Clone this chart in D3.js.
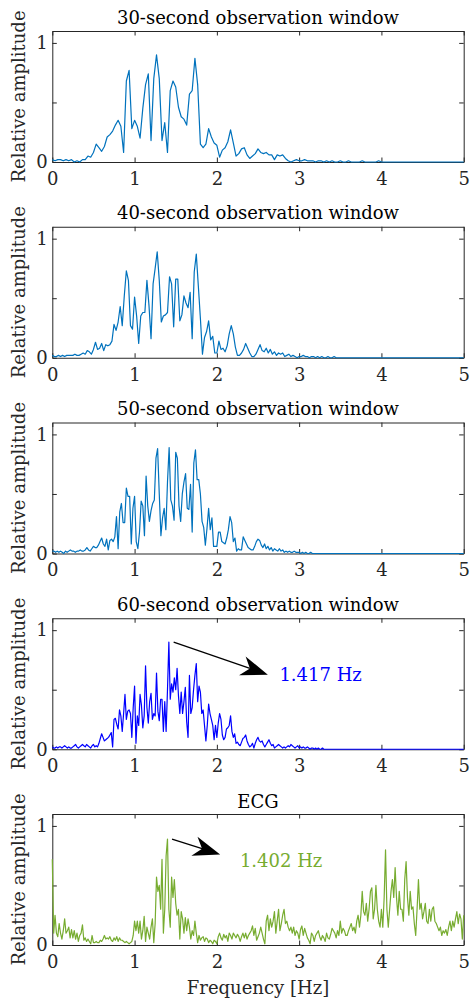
<!DOCTYPE html>
<html>
<head>
<meta charset="utf-8">
<script src="https://cdn.jsdelivr.net/npm/d3@7"></script>
<style>
  html, body { margin: 0; padding: 0; background: #fff; }
  svg { display: block; }
</style>
</head>
<body>
<div id="chart"></div>
<script>
// ---- data ----
const xTicks = [0, 1, 2, 3, 4, 5];
const yTicks = [0, 0.5, 1];
const yTickLabels = ['0', '', '1'];

const titles = [
  '30-second observation window',
  '40-second observation window',
  '50-second observation window',
  '60-second observation window',
  'ECG',
];
// frequency step (Hz) of each spectrum
const steps = [1 / 30, 1 / 40, 1 / 50, 1 / 60, 1 / 60];

const amp30 = [
  0.02,0.01,0.02,0.02,0.01,0.02,0.01,0.02,0.00,0.01,
  0.00,0.02,0.02,0.05,0.04,0.08,0.15,0.12,0.09,0.13,
  0.21,0.23,0.26,0.31,0.35,0.30,0.08,0.68,0.77,0.28,
  0.35,0.30,0.20,0.45,0.65,0.74,0.18,0.70,0.90,0.70,
  0.18,0.33,0.08,0.60,0.68,0.63,0.46,0.38,0.36,0.31,
  0.57,0.60,0.87,0.65,0.15,0.12,0.15,0.28,0.21,0.16,
  0.14,0.04,0.10,0.12,0.17,0.27,0.16,0.05,0.07,0.11,
  0.12,0.06,0.03,0.05,0.07,0.11,0.08,0.07,0.08,0.06,
  0.06,0.02,0.06,0.05,0.06,0.03,0.01,0.00,0.01,0.02,
  0.01,0.01,0.02,0.01,0.01,0.01,0.00,0.01,0.01,0.00,
  0.01,0.00,0.01,0.00,0.00,0.01,0.00,0.00,0.01,0.00,
  0.00,0.00,0.00,0.01,0.00,0.00,0.00,0.00,0.00,0.01,
  0.00,0.00,0.00,0.00,0.00,0.00,0.00,0.00,0.00,0.00,
  0.00,0.00,0.00,0.00,0.00,0.00,0.00,0.00,0.00,0.00,
  0.00,0.00,0.00,0.00,0.00,0.00,0.00,0.00,0.00,0.00,
  0.00,
];

const amp40 = [
  0.02,0.01,0.01,0.02,0.01,0.02,0.01,0.02,0.02,0.02,
  0.02,0.03,0.02,0.02,0.03,0.04,0.03,0.06,0.05,0.03,
  0.07,0.13,0.07,0.08,0.12,0.06,0.11,0.10,0.11,0.14,
  0.28,0.23,0.30,0.43,0.27,0.52,0.73,0.65,0.27,0.24,
  0.51,0.35,0.12,0.35,0.38,0.38,0.65,0.44,0.16,0.62,
  0.75,0.89,0.65,0.30,0.35,0.36,0.38,0.68,0.62,0.26,
  0.66,0.66,0.31,0.36,0.52,0.46,0.42,0.55,0.16,0.72,
  0.87,0.60,0.33,0.03,0.17,0.22,0.31,0.15,0.18,0.04,
  0.04,0.14,0.07,0.08,0.05,0.10,0.20,0.27,0.20,0.09,
  0.02,0.02,0.04,0.07,0.12,0.08,0.04,0.01,0.01,0.03,
  0.07,0.11,0.06,0.05,0.08,0.04,0.07,0.03,0.05,0.02,
  0.04,0.03,0.04,0.01,0.02,0.03,0.01,0.02,0.01,0.00,
  0.01,0.01,0.02,0.01,0.01,0.00,0.01,0.01,0.00,0.01,
  0.00,0.01,0.00,0.00,0.01,0.00,0.00,0.01,0.00,0.00,
  0.00,0.00,0.00,0.00,0.00,0.00,0.00,0.00,0.00,0.00,
  0.00,0.00,0.00,0.00,0.00,0.00,0.00,0.00,0.00,0.00,
  0.00,0.00,0.00,0.00,0.00,0.00,0.00,0.00,0.00,0.00,
  0.00,0.00,0.00,0.00,0.00,0.00,0.00,0.00,0.00,0.00,
  0.00,0.00,0.00,0.00,0.00,0.00,0.00,0.00,0.00,0.00,
  0.00,0.00,0.00,0.00,0.00,0.00,0.00,0.00,0.00,0.00,
  0.00,
];

const amp50 = [
  0.02,0.02,0.01,0.02,0.01,0.02,0.01,0.00,0.02,0.01,
  0.02,0.03,0.02,0.02,0.01,0.02,0.02,0.03,0.02,0.02,
  0.03,0.05,0.03,0.02,0.04,0.06,0.05,0.05,0.07,0.10,
  0.13,0.08,0.06,0.12,0.03,0.11,0.12,0.10,0.14,0.31,
  0.04,0.35,0.42,0.26,0.26,0.55,0.48,0.48,0.08,0.38,
  0.48,0.10,0.04,0.18,0.44,0.40,0.15,0.65,0.40,0.27,
  0.36,0.42,0.45,0.80,0.88,0.50,0.15,0.30,0.38,0.20,
  0.60,0.89,0.45,0.40,0.28,0.85,0.80,0.40,0.27,0.50,
  0.60,0.67,0.38,0.37,0.58,0.18,0.76,0.87,0.62,0.62,
  0.50,0.27,0.22,0.07,0.21,0.38,0.20,0.30,0.06,0.06,
  0.06,0.18,0.18,0.10,0.09,0.08,0.13,0.20,0.31,0.26,
  0.10,0.13,0.02,0.04,0.03,0.03,0.14,0.11,0.08,0.05,
  0.04,0.03,0.03,0.06,0.10,0.12,0.11,0.07,0.05,0.08,
  0.04,0.06,0.03,0.05,0.02,0.04,0.03,0.02,0.04,0.02,
  0.03,0.01,0.02,0.01,0.02,0.01,0.01,0.02,0.01,0.01,
  0.01,0.00,0.01,0.00,0.01,0.00,0.00,0.01,0.00,0.00,
  0.00,0.00,0.00,0.00,0.00,0.00,0.00,0.00,0.00,0.00,
  0.00,0.00,0.00,0.00,0.00,0.00,0.00,0.00,0.00,0.00,
  0.00,0.00,0.00,0.00,0.00,0.00,0.00,0.00,0.00,0.00,
  0.00,0.00,0.00,0.00,0.00,0.00,0.00,0.00,0.00,0.00,
  0.00,0.00,0.00,0.00,0.00,0.00,0.00,0.00,0.00,0.00,
  0.00,0.00,0.00,0.00,0.00,0.00,0.00,0.00,0.00,0.00,
  0.00,0.00,0.00,0.00,0.00,0.00,0.00,0.00,0.00,0.00,
  0.00,0.00,0.00,0.00,0.00,0.00,0.00,0.00,0.00,0.00,
  0.00,0.00,0.00,0.00,0.00,0.00,0.00,0.00,0.00,0.00,
  0.00,
];

const amp60 = [
  0.02,0.01,0.01,0.02,0.01,0.02,0.02,0.01,0.02,0.03,
  0.02,0.01,0.02,0.01,0.01,0.02,0.03,0.04,0.02,0.01,
  0.02,0.03,0.04,0.03,0.02,0.04,0.03,0.02,0.01,0.03,
  0.04,0.02,0.03,0.02,0.05,0.09,0.13,0.10,0.07,0.08,
  0.09,0.10,0.12,0.14,0.02,0.25,0.26,0.21,0.17,0.33,
  0.28,0.15,0.30,0.46,0.25,0.32,0.33,0.30,0.10,0.35,
  0.53,0.05,0.28,0.20,0.46,0.37,0.18,0.28,0.70,0.35,
  0.22,0.40,0.47,0.25,0.30,0.28,0.64,0.32,0.24,0.42,
  0.42,0.15,0.40,0.15,0.50,0.90,0.42,0.55,0.48,0.60,
  0.50,0.68,0.45,0.30,0.48,0.30,0.40,0.52,0.23,0.10,
  0.62,0.30,0.35,0.50,0.62,0.72,0.40,0.53,0.48,0.30,
  0.33,0.20,0.07,0.20,0.38,0.30,0.25,0.20,0.08,0.20,
  0.10,0.22,0.30,0.25,0.12,0.08,0.10,0.17,0.18,0.20,
  0.28,0.15,0.10,0.13,0.05,0.06,0.04,0.03,0.06,0.09,
  0.10,0.12,0.07,0.04,0.02,0.03,0.05,0.01,0.05,0.08,
  0.10,0.07,0.06,0.07,0.04,0.02,0.04,0.06,0.08,0.05,
  0.03,0.04,0.01,0.02,0.03,0.04,0.03,0.02,0.01,0.02,
  0.01,0.02,0.03,0.02,0.04,0.03,0.02,0.01,0.02,0.03,
  0.01,0.02,0.01,0.02,0.01,0.01,0.02,0.01,0.00,0.01,
  0.01,0.00,0.01,0.00,0.01,0.00,0.00,0.01,0.00,0.00,
  0.00,0.00,0.00,0.00,0.00,0.00,0.00,0.00,0.00,0.00,
  0.00,0.00,0.00,0.00,0.00,0.00,0.00,0.00,0.00,0.00,
  0.00,0.00,0.00,0.00,0.00,0.00,0.00,0.00,0.00,0.00,
  0.00,0.00,0.00,0.00,0.00,0.00,0.00,0.00,0.00,0.00,
  0.00,0.00,0.00,0.00,0.00,0.00,0.00,0.00,0.00,0.00,
  0.00,0.00,0.00,0.00,0.00,0.00,0.00,0.00,0.00,0.00,
  0.00,0.00,0.00,0.00,0.00,0.00,0.00,0.00,0.00,0.00,
  0.00,0.00,0.00,0.00,0.00,0.00,0.00,0.00,0.00,0.00,
  0.00,0.00,0.00,0.00,0.00,0.00,0.00,0.00,0.00,0.00,
  0.00,0.00,0.00,0.00,0.00,0.00,0.00,0.00,0.00,0.00,
  0.00,
];

const ampEcg = [
  0.72,0.10,0.25,0.10,0.07,0.18,0.10,0.05,0.12,0.22,
  0.10,0.12,0.15,0.06,0.13,0.06,0.12,0.05,0.10,0.03,
  0.08,0.10,0.17,0.04,0.06,0.03,0.05,0.03,0.01,0.08,
  0.02,0.02,0.03,0.02,0.02,0.04,0.03,0.05,0.08,0.05,
  0.06,0.05,0.07,0.04,0.03,0.06,0.04,0.07,0.03,0.06,
  0.04,0.04,0.03,0.02,0.03,0.02,0.01,0.02,0.03,0.08,
  0.20,0.12,0.20,0.10,0.20,0.05,0.12,0.24,0.03,0.15,
  0.10,0.05,0.15,0.22,0.02,0.18,0.57,0.45,0.50,0.30,
  0.72,0.10,0.30,0.75,0.89,0.30,0.15,0.57,0.40,0.55,
  0.35,0.25,0.30,0.05,0.28,0.22,0.10,0.23,0.12,0.22,
  0.15,0.05,0.12,0.08,0.20,0.10,0.02,0.08,0.04,0.06,
  0.07,0.03,0.06,0.05,0.02,0.04,0.03,0.01,0.04,0.03,
  0.01,0.07,0.10,0.06,0.04,0.09,0.06,0.08,0.03,0.10,
  0.08,0.05,0.10,0.08,0.06,0.09,0.07,0.03,0.07,0.10,
  0.06,0.10,0.05,0.08,0.10,0.12,0.16,0.08,0.14,0.04,
  0.07,0.10,0.15,0.10,0.05,0.01,0.20,0.25,0.12,0.22,
  0.15,0.20,0.28,0.10,0.20,0.30,0.12,0.18,0.25,0.30,
  0.18,0.20,0.15,0.12,0.15,0.10,0.15,0.08,0.12,0.10,
  0.05,0.13,0.16,0.08,0.14,0.10,0.06,0.04,0.01,0.10,
  0.08,0.03,0.08,0.10,0.12,0.07,0.04,0.08,0.06,0.03,
  0.10,0.06,0.05,0.09,0.14,0.12,0.10,0.06,0.12,0.08,
  0.20,0.10,0.14,0.12,0.08,0.08,0.12,0.15,0.18,0.12,
  0.15,0.10,0.20,0.25,0.15,0.25,0.45,0.28,0.25,0.35,
  0.20,0.30,0.45,0.48,0.22,0.30,0.50,0.30,0.20,0.15,
  0.30,0.15,0.40,0.80,0.30,0.15,0.30,0.45,0.55,0.40,
  0.65,0.40,0.25,0.45,0.30,0.30,0.20,0.55,0.70,0.40,
  0.25,0.45,0.30,0.32,0.18,0.08,0.30,0.55,0.30,0.35,
  0.22,0.28,0.35,0.20,0.18,0.30,0.20,0.30,0.32,0.20,
  0.18,0.15,0.12,0.15,0.08,0.12,0.10,0.13,0.08,0.15,
  0.20,0.12,0.20,0.15,0.22,0.28,0.18,0.26,0.22,0.05,
  0.25,
];

const spectra = [amp30, amp40, amp50, amp60, ampEcg];

// peak annotations: panel index, label, arrow start/end and label anchor (Hz, amplitude)
const peakNotes = [
  { panel: 3, label: '1.417 Hz', from: [1.475, 0.9], to: [2.62, 0.626], at: [2.76, 0.57] },
  { panel: 4, label: '1.402 Hz', from: [1.455, 0.89], to: [2.04, 0.76], at: [2.28, 0.655] },
];

// ---- styles / layout ----
const colors = ['#0072BD', '#0072BD', '#0072BD', '#0000FF', '#77AC30'];
const width = 470;
const height = 1003;
const plotLeft = 52.3;
const plotRight = 463.7;
const firstTop = 31;
const panelStep = 195.75;
const panelHeight = 131;
const axisColor = '#262626';
const font = '"DejaVu Serif", serif';

const svg = d3
  .select('#chart')
  .append('svg')
  .attr('width', width)
  .attr('height', height)
  .attr('viewBox', `0 0 ${width} ${height}`);

const x = d3.scaleLinear().domain([0, 5]).range([plotLeft, plotRight]);

spectra.forEach((amps, i) => {
  const top = firstTop + i * panelStep;
  const bottom = top + panelHeight;
  const y = d3.scaleLinear().domain([0, 1.1]).range([bottom, top]);
  const g = svg.append('g').attr('class', 'panel');

  // axes (MATLAB style box, ticks pointing inward)
  const tick = -4.5;
  g.append('g')
    .attr('transform', `translate(0,${bottom})`)
    .call(
      d3.axisBottom(x).tickValues(xTicks).tickSizeInner(tick).tickSizeOuter(0)
        .tickPadding(10).tickFormat(d3.format('d'))
    );
  g.append('g')
    .attr('transform', `translate(0,${top})`)
    .call(d3.axisTop(x).tickValues(xTicks).tickSizeInner(tick).tickSizeOuter(0).tickFormat(''));
  g.append('g')
    .attr('transform', `translate(${plotLeft},0)`)
    .call(
      d3.axisLeft(y).tickValues(yTicks).tickSizeInner(tick).tickSizeOuter(0)
        .tickPadding(4.5).tickFormat((d, k) => yTickLabels[k])
    );
  g.append('g')
    .attr('transform', `translate(${plotRight},0)`)
    .call(d3.axisRight(y).tickValues(yTicks).tickSizeInner(tick).tickSizeOuter(0).tickFormat(''));

  g.selectAll('.domain, .tick line').attr('stroke', axisColor).attr('stroke-width', 1);
  g.selectAll('.tick text')
    .attr('fill', axisColor)
    .attr('font-family', font)
    .attr('font-size', 18);

  // data line, drawn over the box like the original
  const line = d3
    .line()
    .x((d, k) => x(k * steps[i]))
    .y((d) => y(d));
  g.append('path')
    .datum(amps)
    .attr('fill', 'none')
    .attr('stroke', colors[i])
    .attr('stroke-width', 1.2)
    .attr('stroke-linejoin', 'round')
    .attr('d', line);

  // title
  g.append('text')
    .attr('x', (plotLeft + plotRight) / 2)
    .attr('y', top - (i === 4 ? 6.5 : 7.5))
    .attr('text-anchor', 'middle')
    .attr('font-family', font)
    .attr('font-size', 18)
    .attr('fill', '#000')
    .text(titles[i]);

  // y label
  g.append('text')
    .attr('transform', `translate(25,${(top + bottom) / 2}) rotate(-90)`)
    .attr('text-anchor', 'middle')
    .attr('font-family', font)
    .attr('font-size', 18)
    .attr('fill', axisColor)
    .text('Relative amplitude');

  // peak annotation
  peakNotes
    .filter((n) => n.panel === i)
    .forEach((n) => {
      const x0 = x(n.from[0]), y0 = y(n.from[1]);
      const x1 = x(n.to[0]), y1 = y(n.to[1]);
      const len = Math.hypot(x1 - x0, y1 - y0);
      const ux = (x1 - x0) / len, uy = (y1 - y0) / len;
      const px = -uy, py = ux;
      const headLen = 27, halfW = 10, notch = 19;
      g.append('line')
        .attr('x1', x0).attr('y1', y0)
        .attr('x2', x1 - ux * notch).attr('y2', y1 - uy * notch)
        .attr('stroke', '#000')
        .attr('stroke-width', 1.3);
      const head = [
        [x1, y1],
        [x1 - ux * headLen + px * halfW, y1 - uy * headLen + py * halfW],
        [x1 - ux * notch, y1 - uy * notch],
        [x1 - ux * headLen - px * halfW, y1 - uy * headLen - py * halfW],
      ];
      g.append('path')
        .attr('d', 'M' + head.map((p) => p.join(',')).join('L') + 'Z')
        .attr('fill', '#000');
      g.append('text')
        .attr('x', x(n.at[0]))
        .attr('y', y(n.at[1]))
        .attr('font-family', font)
        .attr('font-size', 18)
        .attr('fill', colors[i])
        .text(n.label);
    });
});

// x label
svg.append('text')
  .attr('x', (plotLeft + plotRight) / 2)
  .attr('y', 994)
  .attr('text-anchor', 'middle')
  .attr('font-family', font)
  .attr('font-size', 18)
  .attr('fill', axisColor)
  .text('Frequency [Hz]');
</script>
</body>
</html>
